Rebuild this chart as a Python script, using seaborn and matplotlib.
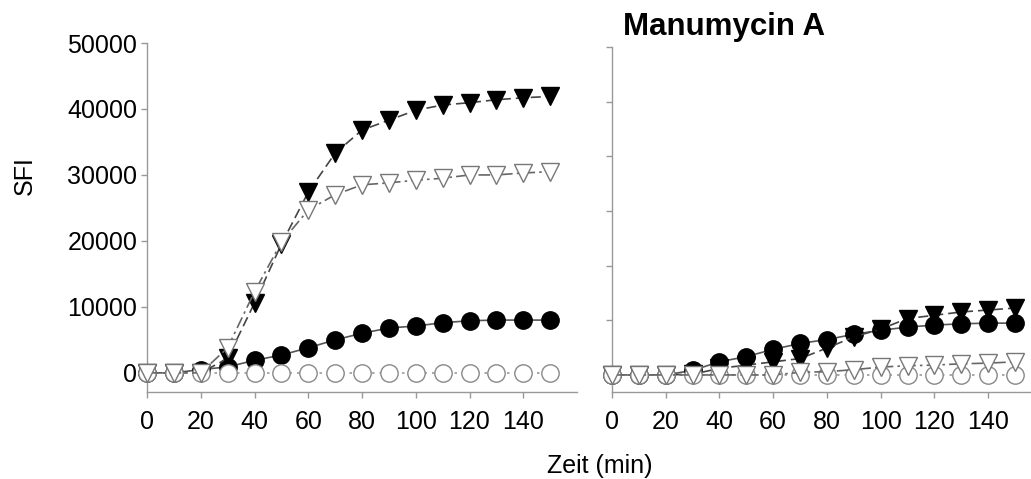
import numpy as np
import pandas as pd
import matplotlib
matplotlib.use("Agg")
import matplotlib.pyplot as plt
import seaborn as sns

# ---- data ----
time_min = [0, 10, 20, 30, 40, 50, 60, 70, 80, 90, 100, 110, 120, 130, 140, 150]

# left panel (control)
ctrl_filled_tri = [0, 0, 0, 2200, 10600, 19500, 27400, 33300, 36800, 38300, 39800, 40600, 40950, 41400, 41700, 41900]
ctrl_open_tri   = [0, 0, 0, 3800, 12300, 19800, 24700, 27000, 28500, 28800, 29200, 29500, 30000, 30000, 30300, 30500]
ctrl_filled_circ = [0, 0, 500, 900, 1900, 2700, 3800, 5000, 6000, 6800, 7100, 7600, 7900, 8000, 8000, 8000]
ctrl_open_circ  = [0, 0, 0, 0, 0, 0, 0, 0, 0, 0, 0, 0, 0, 0, 0, 0]

# right panel (Manumycin A)
manu_filled_tri = [0, 0, 0, 100, 1000, 1500, 2000, 2500, 4100, 5800, 7000, 8600, 9100, 9600, 9900, 10200]
manu_open_tri   = [0, 0, 0, 0, 0, 0, 0, 400, 500, 800, 1200, 1400, 1500, 1700, 1800, 2000]
manu_filled_circ = [0, 0, 0, 700, 2000, 2800, 3900, 4800, 5400, 6200, 6800, 7300, 7600, 7800, 7900, 7900]
manu_open_circ  = [0, 0, 0, 0, 0, 0, 0, 0, 0, 0, 0, 0, 0, 0, 0, 0]

x_ticks = [0, 20, 40, 60, 80, 100, 120, 140]
y_ticks_left = [0, 10000, 20000, 30000, 40000, 50000]
title_right = "Manumycin A"
x_label = "Zeit (min)"
y_label = "SFI"

# ---- style ----
sns.set_style("white")
plt.rcParams['font.family'] = ['Liberation Sans', 'DejaVu Sans']
plt.rcParams['text.color'] = 'black'

W, H = 1031, 479
fig = plt.figure(figsize=(W / 100, H / 100), dpi=100)

def ax_rect(x0, y0, x1, y1):
    return [x0 / W, 1 - y1 / H, (x1 - x0) / W, (y1 - y0) / H]

ax1 = fig.add_axes(ax_rect(147, 43, 577, 392))
ax2 = fig.add_axes(ax_rect(612, 47, 1030, 392))

series_styles = [
    # (key, marker, facecolor, edgecolor, linecolor, linestyle, zorder)
    ("filled_circ", "o", "black", "black", "#555555", "-", 3),
    ("filled_tri", "v", "black", "black", "#444444", (0, (6, 3)), 4),
    ("open_circ", "o", "white", "#888888", "#999999", (0, (1.5, 3)), 5),
    ("open_tri", "v", "white", "#777777", "#666666", (0, (7, 2.5, 1.5, 2.5)), 6),
]

panels = {
    ax1: {"filled_tri": ctrl_filled_tri, "open_tri": ctrl_open_tri,
          "filled_circ": ctrl_filled_circ, "open_circ": ctrl_open_circ},
    ax2: {"filled_tri": manu_filled_tri, "open_tri": manu_open_tri,
          "filled_circ": manu_filled_circ, "open_circ": manu_open_circ},
}

for ax, data in panels.items():
    for key, mk, fc, ec, lc, ls, z in series_styles:
        df = pd.DataFrame({"t": time_min, "v": data[key]})
        sns.lineplot(data=df, x="t", y="v", ax=ax, color=lc, linestyle=ls,
                     linewidth=1.2, marker=mk, markersize=12.5,
                     markerfacecolor=fc, markeredgecolor=ec,
                     markeredgewidth=1.0, zorder=z, clip_on=False,
                     errorbar=None)

for ax in (ax1, ax2):
    for s in ("top", "right"):
        ax.spines[s].set_visible(False)
    for s in ("left", "bottom"):
        ax.spines[s].set_color("#999999")
        ax.spines[s].set_linewidth(1.0)
    ax.set_xticks(x_ticks)
    ax.tick_params(axis="both", which="both", direction="out", length=4,
                   width=1.0, color="#999999", labelsize=18,
                   labelcolor="black", bottom=True, left=True)
    ax.tick_params(axis="x", pad=9)
    ax.tick_params(axis="y", pad=3)
    ax.set_xlabel("")
    ax.set_ylabel("")
    ax.grid(False)
    ax.set_facecolor("none")

ax1.set_xlim(0, 160)
ax1.set_ylim(-2900, 50000)
ax1.set_yticks(y_ticks_left)

ax2.set_xlim(0, 155.6)
ax2.set_ylim(-2600, 50000)
ax2.set_yticks(np.linspace(0, 50000, 7))
ax2.set_yticklabels([])

fig.text(623 / W, 1 - 35 / H, title_right, fontsize=22.5, fontweight="bold",
         ha="left", va="baseline", color="black")
fig.text(600 / W, 1 - 473 / H, x_label, fontsize=18, ha="center",
         va="baseline", color="black")
fig.text(32 / W, 1 - 176 / H, y_label, fontsize=18, rotation=90,
         rotation_mode="anchor", ha="center", va="baseline", color="black")

fig.savefig("out.png", dpi=100, facecolor="white")
